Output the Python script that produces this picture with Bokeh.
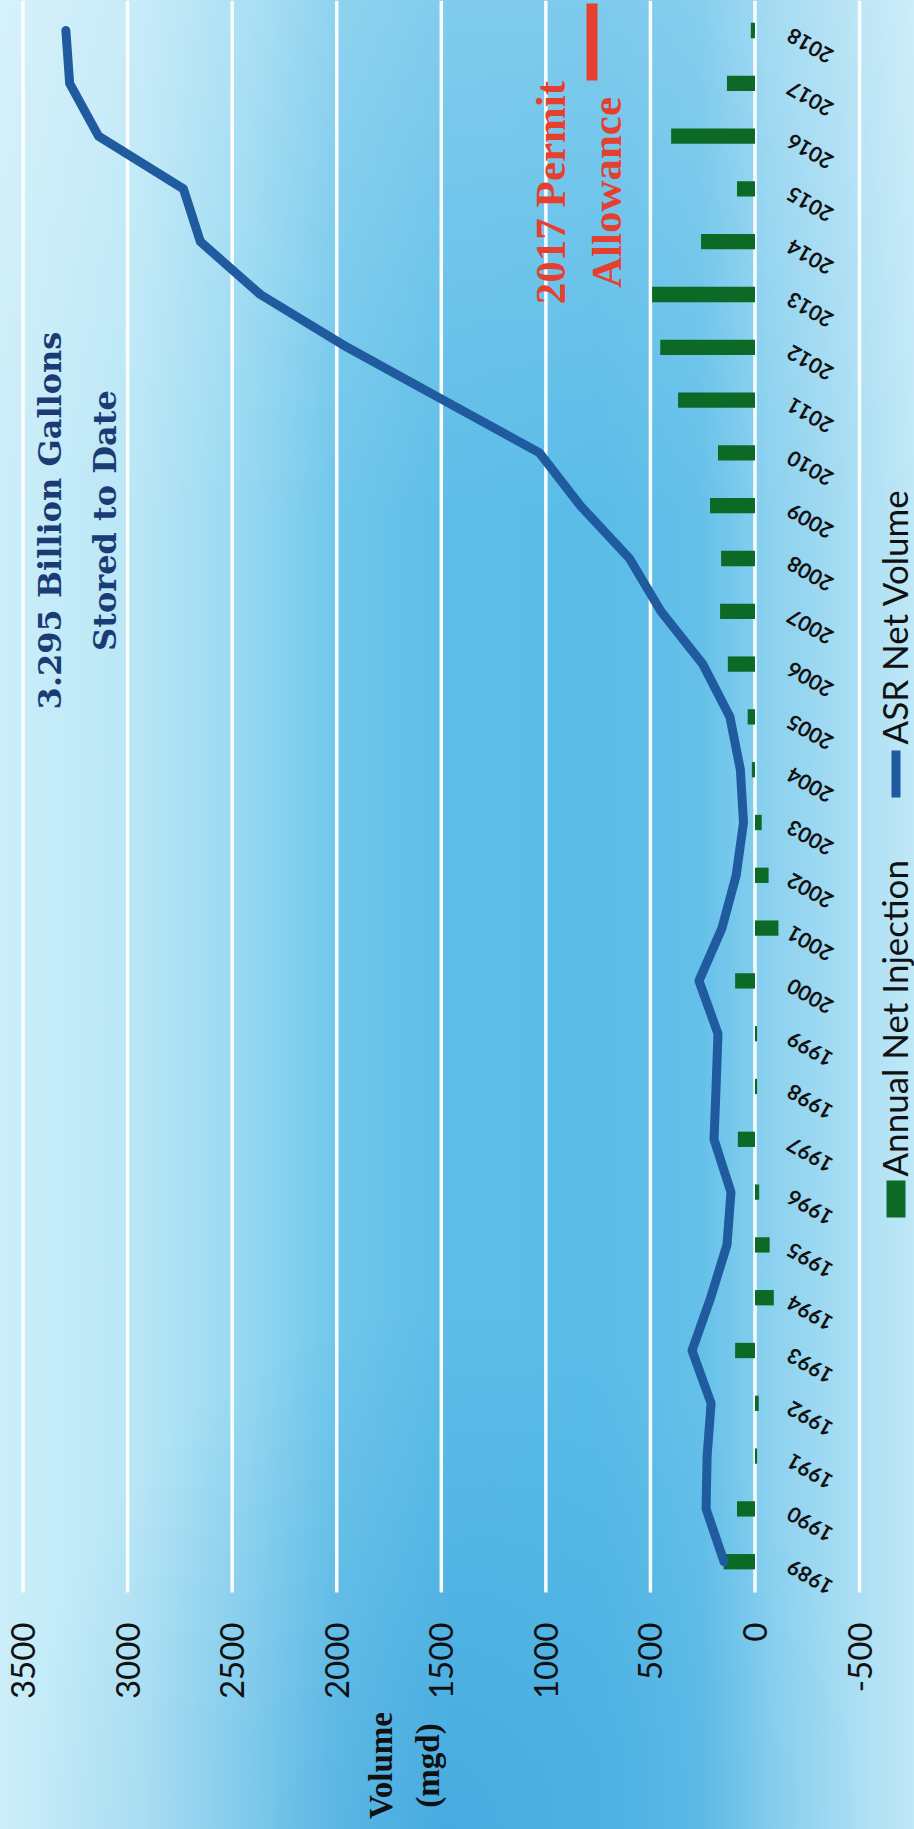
from math import pi
from bokeh.plotting import figure
from bokeh.models import Range1d, Label, BoxAnnotation
from bokeh.core.properties import value
from bokeh.embed import file_html
from bokeh.resources import INLINE

# ---------------- data ----------------
years = list(range(1989, 2019))
annual_net_injection = [150, 86, -10, -18, 95, -90, -70, -20, 82, -10,
                        -10, 95, -112, -65, -32, 15, 35, 130, 167, 162,
                        215, 177, 368, 453, 492, 258, 86, 401, 134, 20]
asr_net_volume = [148, 234, 229, 210, 301, 212, 134, 115, 196, 186,
                  177, 268, 158, 90, 55, 70, 120, 250, 450, 600,
                  835, 1030, 1490, 1950, 2365, 2652, 2733, 3139, 3277, 3295]
volume_ticks = [3500, 3000, 2500, 2000, 1500, 1000, 500, 0, -500]
volume_tick_labels = [str(t) for t in volume_ticks]
year_labels = [str(y) for y in years]

# ---------------- layout (chart is turned 90 degrees) ----------------
W, H = 914, 1829
GRID_BOTTOM = 1592       # pixel row where the grid ends
TICK_LABEL_END = 1622    # pixel row where the volume labels end
PX_ZERO = 754.5          # pixel column of the 0 line
PX_PER_UNIT = 0.20914    # pixels per mgd
PX_TOP_YEAR = 30         # pixel row of the last year
PX_PER_YEAR = 52.8

x_start = PX_ZERO / PX_PER_UNIT
x_end = x_start - W / PX_PER_UNIT
y_end = years[-1] + PX_TOP_YEAR / PX_PER_YEAR
y_start = y_end - H / PX_PER_YEAR


def dx(px):
    return x_start - px / PX_PER_UNIT


def dy(py):
    return y_end - py / PX_PER_YEAR


GREEN = "#0c6a26"
BLUE = "#1f5b9e"
RED = "#e5402f"
NAVY = "#1b3b74"

p = figure(width=W, height=H,
           x_range=Range1d(x_start, x_end), y_range=Range1d(y_start, y_end),
           output_backend="svg", toolbar_location=None,
           x_axis_location=None, y_axis_location=None,
           min_border=0)

p.background_fill_color = None
p.border_fill_color = None
p.outline_line_color = None
p.grid.visible = False
p.styles = {
    "background": (
        "radial-gradient(ellipse 420px 520px at 440px 1829px, rgba(20,130,205,0.30), rgba(20,130,205,0) 100%),"
        "linear-gradient(180deg, rgba(255,255,255,0.22) 0px, rgba(255,255,255,0) 520px),"
        "linear-gradient(90deg, #cbeef9 0px, #b8e6f6 140px, #94d7f1 250px, #6fc6eb 340px, "
        "#5dbde8 450px, #5abce8 600px, #64c0e9 700px, #8bd1ef 770px, #a8ddf3 850px, #bfe8f7 914px)"
    )
}

# value grid lines (vertical, white) and value labels along the bottom
n_t = len(volume_ticks)
p.segment(x0=volume_ticks, x1=volume_ticks,
          y0=[y_end] * n_t, y1=[dy(GRID_BOTTOM)] * n_t,
          line_color="white", line_width=3.5, line_alpha=0.95)
p.text(x=volume_ticks, y=[dy(TICK_LABEL_END)] * n_t, text=volume_tick_labels,
       angle=pi / 2, text_align="right", text_baseline="middle",
       text_font=value("Lato"), text_font_size="33px", text_color="#111111")

# bars and line
p.hbar(y=years, left=0, right=annual_net_injection, height=0.29,
       fill_color=GREEN, line_color=None)
p.line(x=asr_net_volume, y=years, line_color=BLUE, line_width=9,
       line_join="round", line_cap="round")

# year labels next to the zero line
p.text(x=[0] * len(years), y=years, text=year_labels, angle=5 * pi / 6,
       text_align="right", text_baseline="middle", x_offset=34, y_offset=3,
       text_font=value("Lato"), text_font_style="bold",
       text_font_size="21px", text_color="#111111")

# annotations
p.add_layout(Label(x=dx(77), y=dy(520), text="3.295 Billion Gallons\nStored to Date",
                   angle=pi / 2, text_align="center", text_baseline="middle",
                   text_font="DejaVu Serif", text_font_style="bold",
                   text_font_size="32px", text_line_height=1.45, text_color=NAVY))
p.add_layout(Label(x=dx(578), y=dy(192), text="2017 Permit\nAllowance",
                   angle=pi / 2, text_align="center", text_baseline="middle",
                   text_font="Liberation Serif", text_font_style="bold",
                   text_font_size="43px", text_line_height=1.2, text_color=RED))
p.add_layout(BoxAnnotation(left=dx(586), right=dx(597), top=dy(3), bottom=dy(80),
                           fill_color=RED, fill_alpha=1, line_color=None))
p.add_layout(Label(x=dx(404), y=dy(1765), text="Volume\n(mgd)",
                   angle=pi / 2, text_align="center", text_baseline="middle",
                   text_font="Liberation Serif", text_font_style="bold",
                   text_font_size="33px", text_line_height=1.3, text_color="#111111"))

# legend (rotated)
p.add_layout(BoxAnnotation(left=dx(886), right=dx(905), top=dy(1180), bottom=dy(1217),
                           fill_color=GREEN, fill_alpha=1, line_color=None))
p.add_layout(Label(x=dx(893), y=dy(1176), text="Annual Net Injection",
                   angle=pi / 2, text_align="left", text_baseline="middle",
                   text_font="Lato", text_font_size="35px", text_color="#111111"))
p.add_layout(BoxAnnotation(left=dx(891), right=dx(900), top=dy(750), bottom=dy(797),
                           fill_color=BLUE, fill_alpha=1, line_color=None))
p.add_layout(Label(x=dx(893), y=dy(744), text="ASR Net Volume",
                   angle=pi / 2, text_align="left", text_baseline="middle",
                   text_font="Lato", text_font_size="35px", text_color="#111111"))

open("out.html", "w").write(file_html(p, INLINE))
